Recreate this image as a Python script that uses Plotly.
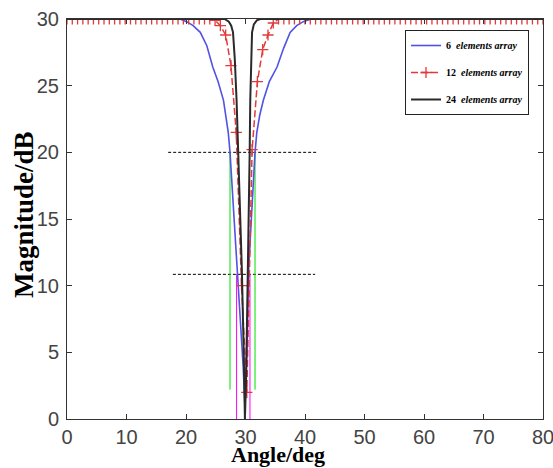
import numpy as np
import plotly.graph_objects as go

# ---- data ----
blue_x = [0, 19.0, 20.1, 21.2, 22.4, 23.5, 24.5, 25.4, 26.3, 26.8,
          27.1, 27.4, 27.8, 28.2, 28.6, 29.0, 29.3, 29.6, 29.9, 30.1,
          30.3, 30.4, 30.5, 30.8, 31.2, 31.6, 31.9, 32.4, 33.0, 34.0,
          35.3, 36.4, 37.5, 38.6, 39.7, 41.0, 80]
blue_y = [30, 30, 29.8, 29.5, 29.0, 28.0, 26.4, 25.3, 23.9, 22.6,
          21.5, 20.0, 17.0, 14.0, 11.0, 8.5, 6.5, 4.0, 1.0, 3.0,
          6.0, 8.5, 10.9, 13.5, 17.0, 20.0, 21.5, 22.8, 23.9, 25.3,
          26.4, 27.8, 29.0, 29.5, 29.8, 30, 30]

red_x = list(np.linspace(0, 80, 91))
red_y = [30, 30, 30, 30, 30, 30, 30, 30, 30, 30,
         30, 30, 30, 30, 30, 30, 30, 30, 30, 30,
         30, 30, 30, 30, 30, 30, 30,
         30, 29.9, 29.5, 28.8, 26.5, 21.5, 10.0, 2.0, 20.2, 25.3, 27.7, 28.8, 29.7,
         30, 30, 30, 30, 30, 30, 30, 30, 30, 30,
         30, 30, 30, 30, 30, 30, 30, 30, 30, 30,
         30, 30, 30, 30, 30, 30, 30, 30, 30, 30,
         30, 30, 30, 30, 30, 30, 30, 30, 30, 30,
         30, 30, 30, 30, 30, 30, 30, 30, 30, 30, 30]

black_x = [0, 26.5, 27.2, 27.6, 27.9, 28.2, 28.5, 28.8, 29.1, 29.4,
           29.7, 29.9, 30.1, 30.3, 30.5, 30.7, 30.8, 30.95, 31.1, 31.4,
           31.9, 32.5, 80]
black_y = [30, 30, 29.8, 29.5, 29.0, 27.0, 23.9, 20.0, 16.0, 11.0,
           5.0, 0.0, 3.0, 8.0, 13.0, 20.0, 23.9, 27.0, 29.0, 29.6,
           29.9, 30, 30]

level20_x = [17.0, 42.2]
level20_y = [20.0, 20.0]
level11_x = [17.8, 41.7]
level11_y = [10.85, 10.85]
green_left_x = [27.4, 27.4]
green_right_x = [31.6, 31.6]
green_y = [2.2, 20.0]
magenta_left_x = [28.5, 28.5]
magenta_right_x = [30.75, 30.75]
magenta_y = [0.0, 10.85]

x_ticks = [0, 10, 20, 30, 40, 50, 60, 70, 80]
y_ticks = [0, 5, 10, 15, 20, 25, 30]

names = ["6&nbsp; <i>elements array</i>",
         "12&nbsp; <i>elements array</i>",
         "24&nbsp; <i>elements array</i>"]

fig = go.Figure()

# guide lines
for gx, gy, col, dash in [
    (level20_x, level20_y, "black", "3px,2px"),
    (level11_x, level11_y, "black", "3px,2px"),
    (green_left_x, green_y, "#00e000", "solid"),
    (green_right_x, green_y, "#00e000", "solid"),
    (magenta_left_x, magenta_y, "#ff00ff", "solid"),
    (magenta_right_x, magenta_y, "#ff00ff", "solid"),
]:
    fig.add_trace(go.Scatter(x=gx, y=gy, mode="lines", showlegend=False,
                             line=dict(color=col, width=1, dash=dash),
                             hoverinfo="skip"))

fig.add_trace(go.Scatter(x=blue_x, y=blue_y, mode="lines", name=names[0],
                         legendgroup="a",
                         line=dict(color="#5252e6", width=1.6)))
fig.add_trace(go.Scatter(x=red_x, y=red_y, mode="lines+markers", name=names[1],
                         legendgroup="b",
                         line=dict(color="#e23a3a", width=1.5, dash="7px,3px"),
                         marker=dict(symbol="cross-thin-open", size=8,
                                     line=dict(color="#b01818", width=1.3))))
fig.add_trace(go.Scatter(x=black_x, y=black_y, mode="lines", name=names[2],
                         legendgroup="c",
                         line=dict(color="#2a2a2a", width=2)))

axis_common = dict(showline=True, linecolor="#333333", linewidth=1,
                   mirror="ticks", ticks="inside", ticklen=5,
                   tickcolor="#333333", showgrid=False, zeroline=False,
                   ticklabeloverflow="allow", automargin=False,
                   tickfont=dict(family="Liberation Sans Narrow, Arial Narrow, Liberation Sans",
                                 size=20, color="#444444"))

fig.update_xaxes(range=[0, 80], tickvals=x_ticks, **axis_common)
fig.update_yaxes(range=[0, 30], tickvals=y_ticks, ticklabelstandoff=3, **axis_common)

W, H = 553, 468
L, R, T, B = 67, 10, 19, 49
pw, ph = W - L - R, H - T - B


def px2paper(px, py):
    return (px - L) / pw, (H - B - py) / ph


lx, ly = px2paper(405, 30)
fig.update_layout(
    width=W, height=H,
    margin=dict(l=L, r=R, t=T, b=B, autoexpand=False),
    paper_bgcolor="white", plot_bgcolor="white",
    legend=dict(x=lx, y=ly, xanchor="left", yanchor="top",
                bgcolor="white", bordercolor="#222222", borderwidth=1,
                traceorder="grouped", tracegroupgap=8,
                font=dict(family="Liberation Serif, Times New Roman, serif",
                          size=10, color="black", weight="bold")),
)

ax, ay = px2paper(278, 468)
bx, by = px2paper(24, 215)
fig.add_annotation(text="<b>Angle/deg</b>", x=ax, y=ay, xref="paper", yref="paper",
                   showarrow=False, xanchor="center", yanchor="bottom", borderpad=0,
                   font=dict(family="Liberation Serif, Times New Roman, serif", size=22, color="black"))
fig.add_annotation(text="<b>Magnitude/dB</b>", x=bx, y=by, xref="paper", yref="paper",
                   showarrow=False, xanchor="center", yanchor="middle", textangle=-90,
                   font=dict(family="Liberation Serif, Times New Roman, serif", size=27, color="black"))

fig.write_html("out.html", config={"displayModeBar": False},
               post_script="document.body.style.margin='0';")
